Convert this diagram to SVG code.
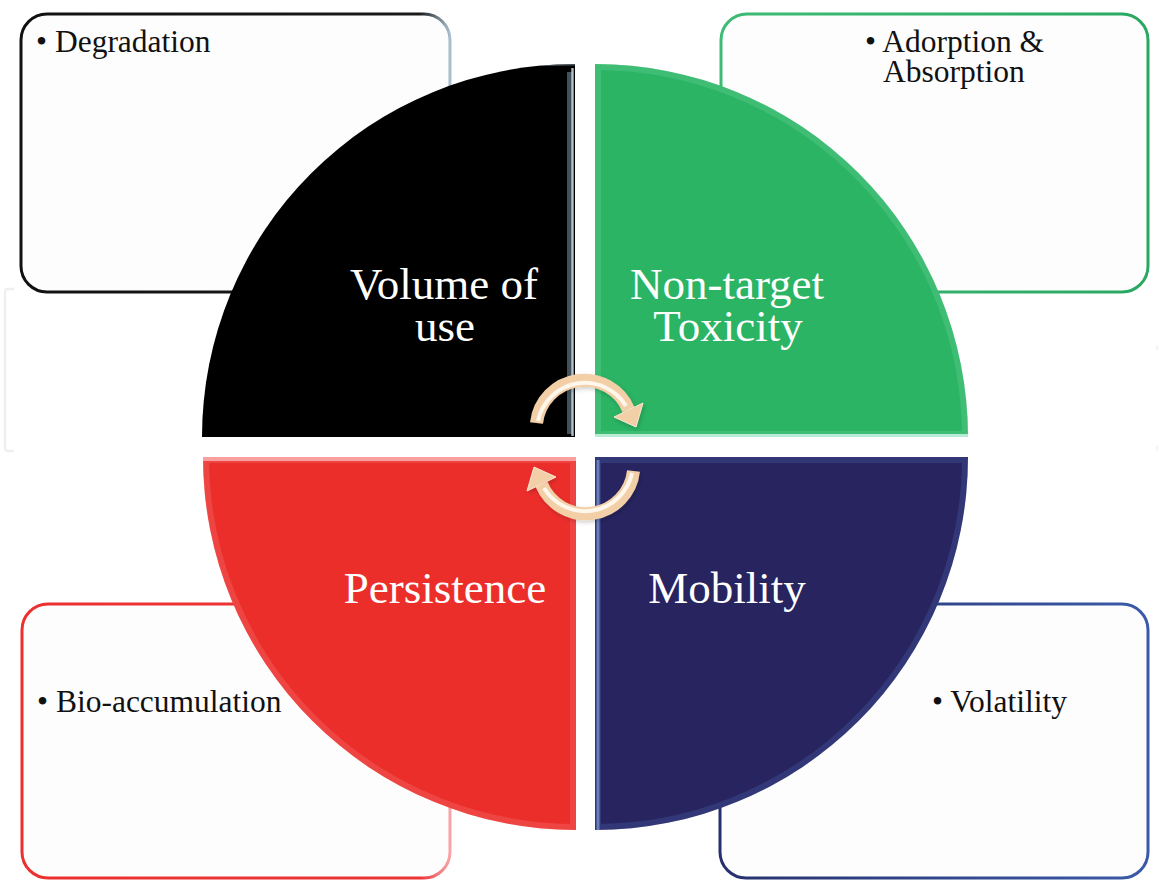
<svg xmlns="http://www.w3.org/2000/svg" width="1159" height="880" viewBox="0 0 1159 880">
  <defs>
    <style>
      .box { fill: #fdfdfd; stroke-width: 3; }
      .note { font-family: "Liberation Serif", "Times New Roman", serif; font-size: 31.5px; fill: #111; }
      .title { font-family: "Liberation Serif", "Times New Roman", serif; font-size: 45px; fill: #ffffff; text-anchor: middle; }
      .bevel { fill: none; stroke-width: 12; opacity: 0.22; }
      .edge { fill: none; stroke-width: 3; opacity: 0.35; }
      .arc-outer { fill: none; stroke: #f3cfa8; stroke-width: 13; }
      .arc-inner { fill: none; stroke: #fff6ec; stroke-width: 4; }
    </style>
    <linearGradient id="strokeBlack" x1="0" y1="0" x2="1" y2="0">
      <stop offset="0" stop-color="#111"/>
      <stop offset="0.93" stop-color="#1a1a1a"/>
      <stop offset="1" stop-color="#a9c0cf"/>
    </linearGradient>
    <linearGradient id="strokeGreen" x1="0" y1="0" x2="1" y2="0">
      <stop offset="0" stop-color="#3dbb74"/>
      <stop offset="1" stop-color="#2aa862"/>
    </linearGradient>
    <linearGradient id="strokeRed" x1="0" y1="0" x2="1" y2="0">
      <stop offset="0" stop-color="#ec3030"/>
      <stop offset="0.93" stop-color="#ec3434"/>
      <stop offset="1" stop-color="#f7a5a8"/>
    </linearGradient>
    <linearGradient id="strokeBlue" x1="0" y1="0" x2="1" y2="0">
      <stop offset="0" stop-color="#27306e"/>
      <stop offset="1" stop-color="#3a5aa8"/>
    </linearGradient>
    <clipPath id="clipTL"><path id="qTL" d="M575,437 L202,437 A373,373 0 0 1 575,64 Z"/></clipPath>
    <clipPath id="clipTR"><path id="qTR" d="M595,437 L595,64 A373,373 0 0 1 968,437 Z"/></clipPath>
    <clipPath id="clipBL"><path id="qBL" d="M576,457 L576,830 A373,373 0 0 1 203,457 Z"/></clipPath>
    <clipPath id="clipBR"><path id="qBR" d="M595,457 L968,457 A373,373 0 0 1 595,830 Z"/></clipPath>
    <filter id="soft" x="-20%" y="-20%" width="140%" height="140%">
      <feDropShadow dx="1" dy="2" stdDeviation="2" flood-color="#000" flood-opacity="0.2"/>
    </filter>
  </defs>

  <!-- faint frame behind the wheel -->
  <g id="frame" fill="none" stroke="#efefef" stroke-width="2.5">
    <path d="M14,289 H8 Q5,289 5,292 V448 Q5,451 8,451 H14"/>
    <path d="M1157,345 V350 M1157,446 V451" opacity="0.6"/>
  </g>

  <!-- side boxes -->
  <g id="box-degradation">
    <rect class="box" x="21" y="14" width="429" height="278" rx="26" stroke="url(#strokeBlack)"/>
    <text class="note" x="36" y="52">• Degradation</text>
  </g>
  <g id="box-adsorption">
    <rect class="box" x="721" y="14" width="427" height="278" rx="26" stroke="url(#strokeGreen)"/>
    <text class="note" x="865" y="52">• Adorption &amp;</text>
    <text class="note" x="883" y="82">Absorption</text>
  </g>
  <g id="box-bioaccumulation">
    <rect class="box" x="22" y="604" width="428" height="274" rx="26" stroke="url(#strokeRed)"/>
    <text class="note" x="37" y="712">• Bio-accumulation</text>
  </g>
  <g id="box-volatility">
    <rect class="box" x="720" y="604" width="428" height="274" rx="26" stroke="url(#strokeBlue)"/>
    <text class="note" x="932" y="712">• Volatility</text>
  </g>

  <!-- wheel quadrants -->
  <g id="volume-of-use">
    <use href="#qTL" fill="#000000"/>
    <g clip-path="url(#clipTL)">
      <path d="M570,72 V434" stroke="#6f8696" stroke-width="6" opacity="0.6"/>
      <path d="M572.5,68 V436" stroke="#c5d6e0" stroke-width="2.5" opacity="0.85"/>
      <path d="M430,66 L575,64" stroke="#8a9aa6" stroke-width="3" opacity="0.5"/>
    </g>
    <text class="title" x="444" y="299">Volume of</text>
    <text class="title" x="445" y="341">use</text>
  </g>
  <g id="non-target-toxicity">
    <use href="#qTR" fill="#2ab464"/>
    <g clip-path="url(#clipTR)">
      <use href="#qTR" class="bevel" stroke="#8fe0b3"/>
      <path d="M595,435.5 H968" stroke="#d8f7ee" stroke-width="3" opacity="0.8"/>
    </g>
    <text class="title" x="727" y="299">Non-target</text>
    <text class="title" x="728" y="341">Toxicity</text>
  </g>
  <g id="persistence">
    <use href="#qBL" fill="#ec2e2b"/>
    <g clip-path="url(#clipBL)">
      <use href="#qBL" class="bevel" stroke="#f79a9a"/>
      <path d="M203,459 H576" stroke="#ffc6c8" stroke-width="4" opacity="0.7"/>
    </g>
    <text class="title" x="445" y="603">Persistence</text>
  </g>
  <g id="mobility">
    <use href="#qBR" fill="#27245f"/>
    <g clip-path="url(#clipBR)">
      <use href="#qBR" class="bevel" stroke="#5a7ccc"/>
      <path d="M598,460 V830" stroke="#8fb0e6" stroke-width="3" opacity="0.6"/>
    </g>
    <text class="title" x="727" y="603">Mobility</text>
  </g>

  <!-- cycle arrows -->
  <g id="connectors" filter="url(#soft)">
    <g id="arrow-top">
      <path class="arc-outer" d="M536.5,423 A48,48 0 0 1 628.5,409.7"/>
      <path class="arc-inner" d="M538,421 A48,48 0 0 1 626,406"/>
      <polygon points="643,403 614,417 636,427" fill="#f3cfa8" stroke="#fbe6d0" stroke-width="1"/>
    </g>
    <g id="arrow-bottom" transform="rotate(180 585 447)">
      <path class="arc-outer" d="M536.5,423 A48,48 0 0 1 628.5,409.7"/>
      <path class="arc-inner" d="M538,421 A48,48 0 0 1 626,406"/>
      <polygon points="643,403 614,417 636,427" fill="#f3cfa8" stroke="#fbe6d0" stroke-width="1"/>
    </g>
  </g>
</svg>
